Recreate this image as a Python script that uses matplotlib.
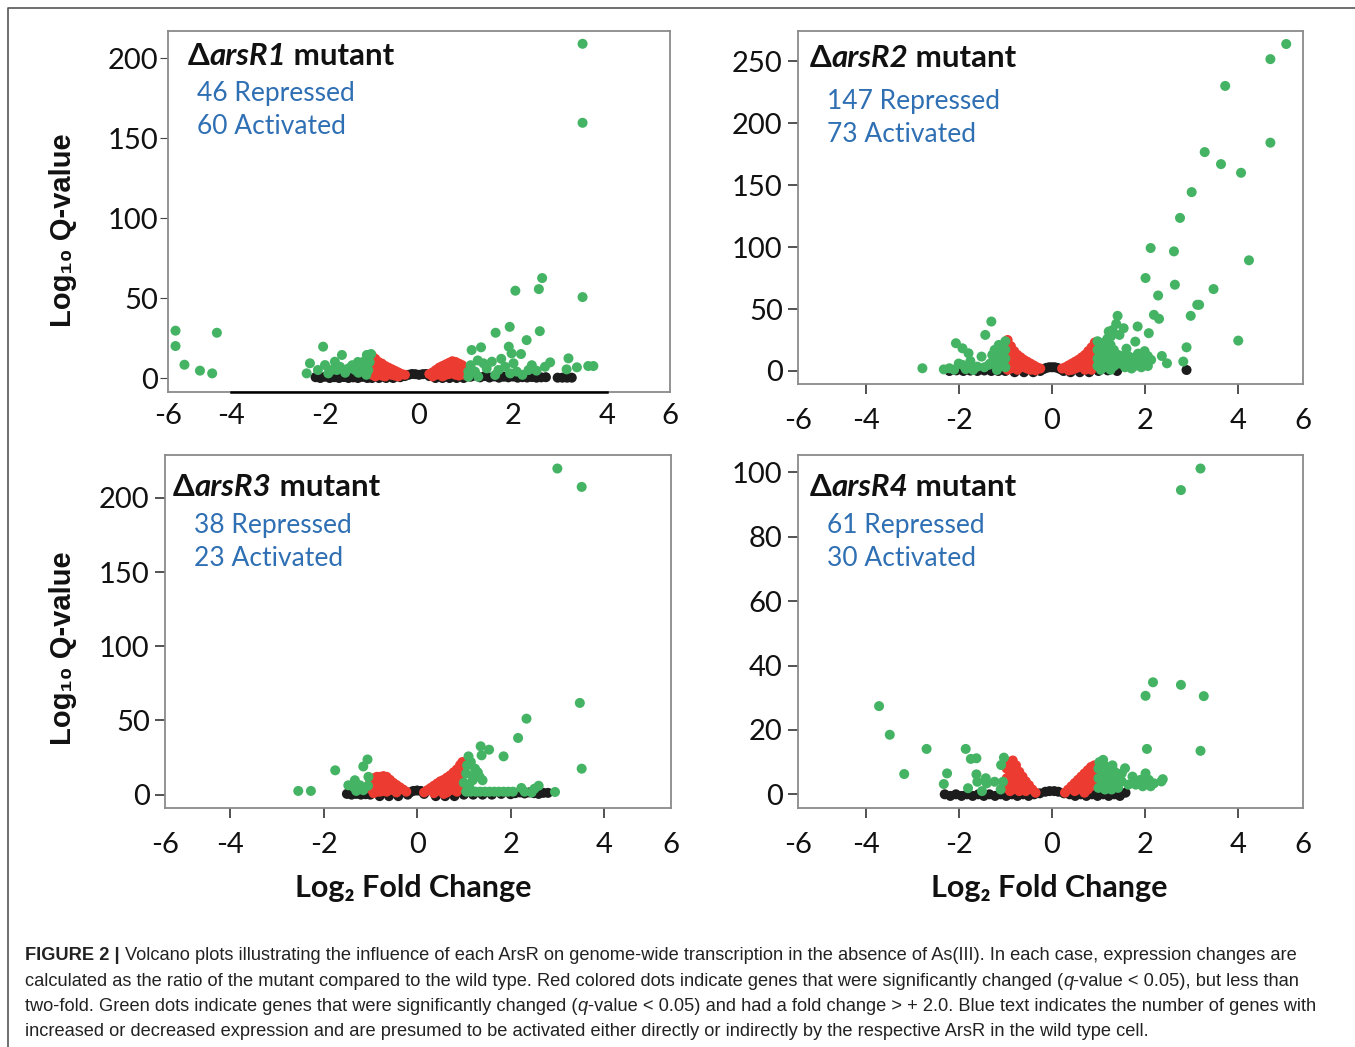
import matplotlib
matplotlib.use('Agg')
import matplotlib.pyplot as plt

W, H = 1355, 1047

GREEN = '#44b464'
RED = '#ec3b30'
BLACK = '#1c1c1c'
BLUE = '#2f6fb3'
SPINE = '#8a8a8a'

x_tick_labels = ['-6', '-4', '-2', '0', '2', '4', '6']

# points are (log2 fold change, log10 q-value)
# ---- dArsR1 ----
r1_black = [(-2.2, 0.5), (-2.1, 0), (-2.0, 0.8), (-1.9, 0), (-1.8, 0.5), (-1.7, 0), (-1.6, 0.6),
            (-1.5, 0), (-1.4, 0.4), (-1.3, 0), (-1.2, 0.7), (-1.1, 0), (-1.0, 0), (-0.85, 0),
            (-0.7, 0), (-0.55, 0), (-0.4, 0.5), (-0.3, 1.2), (-0.22, 2.0), (-0.15, 2.5), (-0.08, 2.4),
            (0.0, 2.0), (0.08, 2.4), (0.15, 2.5), (0.22, 1.2), (0.35, 0), (0.5, 0), (0.65, 0),
            (0.8, 0), (0.95, 0), (1.1, 0.8), (1.2, 1.5), (1.3, 0.4), (1.4, 1.2), (1.5, 0.3),
            (1.6, 1.0), (1.7, 0.2), (1.8, 0.8), (1.9, 0.4), (2.0, 0.9), (2.1, 0.2), (2.2, 0.5),
            (2.3, 0.3), (2.4, 0.6), (2.5, 0.2), (2.6, 0.4), (2.7, 0.5), (2.95, 0.2), (3.05, 0.2),
            (3.15, 0.2), (3.25, 0.2)]
r1_red = [(-1.0, 14), (-1.0, 10), (-1.0, 6), (-1.0, 2), (-0.93, 12), (-0.93, 8), (-0.93, 4),
          (-0.93, 1), (-0.86, 10), (-0.86, 6), (-0.86, 2), (-0.79, 9), (-0.79, 5), (-0.79, 1.5),
          (-0.72, 7.5), (-0.72, 4), (-0.72, 1), (-0.65, 6.5), (-0.65, 3), (-0.58, 5.5), (-0.58, 2),
          (-0.51, 4.5), (-0.51, 1.5), (-0.44, 3.5), (-0.44, 1), (-0.37, 2.5), (-0.3, 2),
          (0.22, 2.5), (0.29, 3.5), (0.29, 1), (0.36, 5), (0.36, 2), (0.43, 6.5), (0.43, 3),
          (0.5, 7.5), (0.5, 4), (0.5, 1), (0.57, 8.5), (0.57, 5), (0.57, 2), (0.64, 9.5),
          (0.64, 6), (0.64, 2.5), (0.71, 10.5), (0.71, 7), (0.71, 3), (0.78, 10), (0.78, 6),
          (0.78, 2), (0.85, 9), (0.85, 5), (0.85, 1.5), (0.92, 8), (0.92, 4), (0.97, 6), (0.97, 2)]
r1_green = [(-5.18, 29.6), (-5.18, 20), (-4.99, 8.3), (-4.66, 4.6), (-4.40, 2.9), (-4.30, 28.3),
            (-2.39, 2.9), (-2.32, 9.2), (-2.04, 19.6), (-2.0, 8.1), (-1.79, 10.2), (-1.64, 14.4),
            (-1.75, 5), (-1.5, 6), (-1.36, 5), (-1.22, 7), (-1.11, 14.4), (-1.02, 15), (-1.86, 5),
            (-1.93, 2.9), (-1.57, 3.3), (-1.29, 3.3), (-1.08, 5), (-1.18, 10.2), (-1.05, 10),
            (-1.12, 2), (-1.42, 8), (-1.68, 7), (-2.15, 5), (-1.3, 10),
            (3.48, 209), (3.48, 159.6), (3.48, 50.6), (2.62, 62.5), (2.55, 55.6), (2.05, 54.6),
            (1.93, 32), (1.63, 28.3), (2.57, 29.3), (2.29, 23.7), (1.12, 17.5), (1.32, 19.2),
            (1.91, 19.6), (1.97, 15.4), (2.17, 15), (1.37, 9.2), (1.55, 10.2), (1.44, 6),
            (1.69, 5), (1.83, 7), (2.01, 9.2), (2.08, 4), (2.33, 5), (2.5, 4.6), (2.68, 7),
            (2.79, 9.8), (3.18, 12.3), (3.14, 5.4), (3.36, 6.7), (3.6, 7.5), (3.71, 7.5),
            (1.19, 4), (1.05, 0.8), (1.26, 0.8), (1.62, 1.9), (1.94, 2.9), (1.1, 8), (1.05, 4),
            (1.25, 11), (2.2, 2), (2.4, 8), (1.75, 12)]

# ---- dArsR2 ----
r2_black = [(-2.2, 0), (-2.05, 0.5), (-1.9, 0), (-1.75, 0.3), (-1.6, 0), (-1.45, 0.4), (-1.3, 0),
            (-1.15, 0), (-1.0, 0), (-0.8, -1), (-0.6, -1), (-0.4, -1), (-0.25, 0), (-0.18, 1.5),
            (-0.12, 2.5), (-0.06, 3), (0.0, 3), (0.06, 3), (0.12, 2.5), (0.18, 1.5), (0.25, 0),
            (0.4, -1), (0.6, -1), (0.8, -1), (1.0, 0), (1.2, 0.5), (1.4, 0), (2.89, 0.8)]
r2_red = [(-0.95, 25), (-0.95, 19), (-0.95, 13), (-0.95, 7), (-0.95, 1), (-0.88, 20), (-0.88, 14),
          (-0.88, 8), (-0.88, 2), (-0.81, 16), (-0.81, 10), (-0.81, 4), (-0.74, 13), (-0.74, 7),
          (-0.74, 1), (-0.67, 11), (-0.67, 5), (-0.6, 9), (-0.6, 3), (-0.53, 7.5), (-0.53, 2),
          (-0.46, 6), (-0.46, 1), (-0.39, 4.5), (-0.32, 3), (-0.25, 2), (-0.35, 0.5),
          (0.22, 2), (0.29, 3), (0.36, 4.5), (0.36, 0.5), (0.43, 6), (0.43, 1), (0.5, 7.5),
          (0.5, 2), (0.57, 9), (0.57, 3), (0.64, 11), (0.64, 5), (0.71, 13), (0.71, 7), (0.71, 1),
          (0.78, 16), (0.78, 10), (0.78, 4), (0.85, 19), (0.85, 13), (0.85, 7), (0.85, 1),
          (0.92, 23), (0.92, 17), (0.92, 11), (0.92, 5)]
r2_green = [(5.03, 263.8), (4.69, 251.6), (3.72, 230), (4.69, 184.2), (3.28, 176.6), (3.63, 166.9),
            (4.06, 159.9), (3.0, 144.3), (2.75, 123.5), (2.12, 99.2), (2.62, 96.5), (4.23, 89.3),
            (2.01, 75), (2.64, 69.6), (3.47, 66.1), (2.28, 60.9), (3.16, 53.4), (3.12, 53.4),
            (2.19, 45.3), (2.3, 42.1), (2.98, 44.5), (1.41, 44.5), (1.84, 35.9), (2.08, 30.5),
            (1.54, 34.5), (1.22, 31.8), (1.45, 29.1), (1.79, 23.7), (2.89, 19.1), (4.0, 24.5),
            (2.36, 12.1), (2.47, 6.2), (2.82, 7.6),
            (0.98, 24), (0.98, 17), (0.98, 10), (0.98, 4), (1.05, 20), (1.05, 13), (1.05, 6),
            (1.05, 1), (1.12, 23), (1.12, 16), (1.12, 9), (1.12, 3), (1.19, 26), (1.19, 19),
            (1.19, 12), (1.19, 5), (1.26, 21), (1.26, 14), (1.26, 7), (1.26, 1), (1.33, 17),
            (1.33, 10), (1.33, 4), (1.38, 38), (1.3, 33), (1.27, 28),
            (1.5, 12), (1.5, 6), (1.57, 9), (1.57, 3), (1.64, 12), (1.64, 5), (1.71, 8), (1.71, 2),
            (1.78, 11), (1.78, 4), (1.85, 14), (1.85, 7), (1.92, 10), (1.92, 3), (1.99, 16),
            (1.99, 7), (2.06, 12), (2.06, 4), (2.13, 9), (1.43, 6), (1.42, 13), (1.6, 18),
            (-1.3, 39.9), (-1.43, 29.1), (-2.06, 22.4), (-1.92, 18.3), (-1.79, 14.3), (-2.78, 2.2),
            (-2.32, 1.3), (-2.2, 2.2), (-1.92, 4.9), (-1.6, 3.5), (-1.51, 11.6), (-1.23, 17),
            (-1.14, 21), (-1.09, 14.3), (-1.32, 6.2), (-1.18, 0.8), (-1.69, 0.8),
            (-1.0, 24), (-1.0, 17), (-1.0, 10), (-1.0, 3), (-1.07, 20), (-1.07, 7), (-1.14, 12),
            (-1.14, 4), (-1.21, 9), (-1.28, 13), (-1.35, 5), (-1.45, 3), (-1.85, 1.5), (-2.0, 6),
            (-2.1, 1), (-1.75, 8)]

# ---- dArsR3 ----
r3_black = [(-1.5, 0.5), (-1.4, 0), (-1.3, 0.5), (-1.2, 0), (-1.1, 0.3), (-1.0, 0), (-0.8, -1),
            (-0.6, -1), (-0.4, -1), (-0.2, 0), (-0.15, 1.5), (-0.08, 2.5), (0.0, 2.8), (0.08, 2.5),
            (0.15, 0.5), (0.4, -1), (0.6, -1), (0.8, -1), (1.0, 0), (1.2, 0), (1.4, 0), (1.6, 0),
            (1.8, 0.5), (2.0, 0.3), (2.1, 1), (2.2, 1.5), (2.3, 0.8), (2.4, 1.5), (2.5, 1),
            (2.6, 0.5), (2.7, 1.2), (2.8, 1.2)]
r3_red = [(-1.0, 9), (-1.0, 4), (-0.93, 11), (-0.93, 6), (-0.93, 1), (-0.86, 12), (-0.86, 7),
          (-0.86, 2), (-0.79, 12), (-0.79, 7), (-0.79, 2), (-0.72, 12.5), (-0.72, 7.5),
          (-0.72, 2.5), (-0.65, 12), (-0.65, 7), (-0.65, 2), (-0.58, 10), (-0.58, 5), (-0.51, 8),
          (-0.51, 3), (-0.44, 6.5), (-0.44, 1.5), (-0.37, 5), (-0.3, 3.5), (-0.23, 2),
          (0.15, 1.5), (0.22, 3), (0.29, 4.5), (0.36, 6), (0.36, 1), (0.43, 7.5), (0.43, 2.5),
          (0.5, 9), (0.5, 4), (0.57, 10), (0.57, 5), (0.57, 0.5), (0.64, 11.5), (0.64, 6.5),
          (0.64, 1.5), (0.71, 13), (0.71, 8), (0.71, 3), (0.78, 15), (0.78, 10), (0.78, 5),
          (0.85, 17), (0.85, 12), (0.85, 7), (0.85, 2), (0.92, 20), (0.92, 15), (0.92, 10),
          (0.92, 5), (0.97, 22)]
r3_green = [(3.0, 219.8), (3.52, 207.4), (3.48, 61.8), (3.52, 17.5), (2.34, 51.2), (2.16, 38.2),
            (1.85, 25.8), (1.36, 32.6), (1.54, 30.3), (1.38, 26.5), (1.10, 25.8), (1.15, 22),
            (1.24, 17.5), (1.05, 14.2), (1.34, 11.9), (1.19, 9.7), (1.40, 9.7), (1.07, 19.8),
            (1.0, 8), (1.12, 5), (1.3, 15), (1.2, 13),
            (1.05, 2), (1.15, 2), (1.25, 2), (1.35, 2), (1.45, 2), (1.55, 2), (1.65, 2), (1.75, 2),
            (1.85, 2), (1.95, 2), (2.05, 2), (2.51, 4), (2.23, 4.5), (2.95, 1.8), (2.6, 6),
            (2.3, 2), (2.45, 1.5),
            (-2.54, 2.5), (-2.27, 2.5), (-1.75, 16.4), (-1.15, 19), (-1.06, 23.7), (-1.04, 12),
            (-1.33, 9.7), (-1.47, 6.3), (-1.36, 5.2), (-1.22, 6.3), (-1.15, 3), (-1.3, 2.5),
            (-1.05, 6)]

# ---- dArsR4 ----
r4_black = [(-2.3, 0), (-2.18, -0.5), (-2.06, 0), (-1.94, -0.5), (-1.82, 0), (-1.7, -0.5),
            (-1.58, 0), (-1.46, -0.5), (-1.34, 0), (-1.22, -0.5), (-1.1, 0), (-0.98, -0.5),
            (-0.86, 0), (-0.74, -0.5), (-0.62, 0), (-0.5, -0.5), (-0.38, 0), (-0.26, 0.3),
            (-0.14, 0.8), (-0.05, 1.0), (0.05, 1.0), (0.14, 0.8), (0.26, 0.3), (0.38, 0),
            (0.5, -0.5), (0.62, 0), (0.74, -0.5), (0.86, 0), (0.98, -0.5), (1.1, 0), (1.22, -0.5),
            (1.34, 0), (1.46, -0.5), (1.58, 0.5)]
r4_red = [(-0.97, 8), (-0.97, 5), (-0.97, 2), (-0.9, 10), (-0.9, 7), (-0.9, 4), (-0.9, 1),
          (-0.84, 10.5), (-0.84, 7.5), (-0.84, 4.5), (-0.84, 1.5), (-0.77, 9), (-0.77, 6),
          (-0.77, 3), (-0.7, 7), (-0.7, 4), (-0.7, 1), (-0.63, 5.5), (-0.63, 2.5), (-0.56, 4),
          (-0.56, 1), (-0.49, 2.8), (-0.42, 1.5), (-0.35, 0.5),
          (0.28, 0.5), (0.35, 1.5), (0.42, 2.5), (0.49, 3.5), (0.49, 1), (0.56, 4.5), (0.56, 1.5),
          (0.63, 5.5), (0.63, 2.5), (0.7, 6.5), (0.7, 3.5), (0.7, 0.5), (0.77, 7.5), (0.77, 4.5),
          (0.77, 1.5), (0.84, 8.5), (0.84, 5.5), (0.84, 2.5), (0.91, 9), (0.91, 6), (0.91, 3),
          (0.95, 8)]
r4_green = [(3.19, 101.2), (2.77, 94.5), (2.17, 34.8), (2.77, 34.0), (2.01, 30.6), (3.26, 30.5),
            (2.04, 14.1), (3.19, 13.5), (-3.71, 27.4), (-3.48, 18.5), (-3.17, 6.3), (-2.69, 14.1),
            (-1.85, 14.1), (-1.74, 11), (-1.62, 11.2), (-2.25, 6.5), (-2.32, 3.2), (-1.03, 11.4),
            (-1.09, 9.1), (-1.62, 6.2), (-1.42, 5), (-1.6, 3.9), (-1.4, 3.4), (-1.8, 1.9),
            (-1.23, 3.9), (-1.05, 3.9), (-1.1, 1.5), (-1.5, 1),
            (1.1, 10.7), (1.17, 8.6), (1.27, 6.5), (1.57, 8.1), (1.73, 5.5), (2.01, 6.5),
            (2.08, 4.5), (2.38, 4.7), (2.19, 3.4), (1.0, 8), (1.0, 5), (1.0, 2), (1.07, 6),
            (1.07, 3), (1.14, 4.5), (1.14, 1.5), (1.21, 7), (1.21, 3), (1.28, 4), (1.28, 1.5),
            (1.35, 7), (1.35, 3), (1.42, 5), (1.42, 2), (1.5, 4), (1.5, 6.5), (1.64, 3), (1.8, 3),
            (1.9, 4.5), (1.95, 2.5), (2.12, 2.5), (1.02, 10), (1.3, 9), (2.35, 4)]

mutants = ['arsR1', 'arsR2', 'arsR3', 'arsR4']
repressed = [46, 147, 38, 61]
activated = [60, 73, 23, 30]
y_ticks = [[0, 50, 100, 150, 200], [0, 50, 100, 150, 200, 250],
           [0, 50, 100, 150, 200], [0, 20, 40, 60, 80, 100]]

# layout (pixels in the 1355x1047 image)
boxes = [(168, 31, 670, 392), (798, 31, 1303, 384), (165, 455, 671, 808), (798, 455, 1303, 808)]
xlims = [(-5.34, 5.34), (-5.45, 5.39), (-5.39, 5.43), (-5.45, 5.39)]
ylims = [(-8.75, 217), (-10.5, 274.3), (-9.0, 228.9), (-4.25, 105.4)]
title_pos = [(188, 56), (810, 58), (173, 487), (810, 487)]
blue_pos = [(197, 93, 127), (827, 101, 135), (194, 525, 559), (827, 525, 559)]

fig = plt.figure(figsize=(W / 100, H / 100), dpi=100)
# overlay axes in pixel units for the free text, drawn above the panels
bg = fig.add_axes([0, 0, 1, 1])
bg.set_xlim(0, W)
bg.set_ylim(H, 0)
bg.axis('off')
bg.set_zorder(10)
bg.plot([8, 8, W + 5], [H + 5, 8, 8], color='#555555', lw=1.2, clip_on=False)

TICKFONT = ['Lato', 'DejaVu Sans']


def chain(x, y, pieces, size, color, family):
    s, w, st = pieces[0]
    t = bg.text(x, y, s, fontsize=size, color=color, family=family, fontweight=w,
                fontstyle=st, va='center', ha='left')
    for s, w, st in pieces[1:]:
        t = bg.annotate(s, xy=(1, 0), xycoords=t, va='bottom', ha='left', fontsize=size,
                        color=color, family=family, fontweight=w, fontstyle=st)
    return t


data = [(r1_black, r1_red, r1_green), (r2_black, r2_red, r2_green),
        (r3_black, r3_red, r3_green), (r4_black, r4_red, r4_green)]

for i in range(4):
    l, t, r, b = boxes[i]
    ax = fig.add_axes([l / W, 1 - b / H, (r - l) / W, (b - t) / H])
    for pts, c in zip(data[i], (BLACK, RED, GREEN)):
        xs, ys = zip(*pts)
        ax.scatter(xs, ys, s=52, color=c, edgecolors='none', zorder=3)
    ax.set_xlim(*xlims[i])
    ax.set_ylim(*ylims[i])
    ax.set_yticks(y_ticks[i])
    ax.set_yticklabels([str(v) for v in y_ticks[i]])
    ax.set_xticks([-4, -2, 0, 2, 4])
    ax.set_xticklabels(x_tick_labels[1:-1])
    ax.set_xticks(list(xlims[i]), minor=True)
    ax.set_xticklabels([x_tick_labels[0], x_tick_labels[-1]], minor=True)
    for sp in ax.spines.values():
        sp.set_color(SPINE)
        sp.set_linewidth(1.3)
    if i == 0:
        ax.tick_params(axis='x', which='both', length=0, pad=8)
        ax.plot([-4, 4], [ylims[0][0]] * 2, color='black', lw=1.8, clip_on=False, zorder=4)
        ax.tick_params(axis='y', length=6, pad=1, color='#444444')
    else:
        ax.tick_params(axis='x', which='major', length=7, pad=10, color='#444444', width=1.3)
        ax.tick_params(axis='x', which='minor', length=0, pad=17)
        ax.tick_params(axis='y', length=7, pad=4, color='#444444', width=1.3)
    for lab in ax.get_xticklabels(which='both') + ax.get_yticklabels():
        lab.set_fontfamily(TICKFONT)
        lab.set_fontsize(21)
        lab.set_color('#111111')

    tx, ty = title_pos[i]
    chain(tx, ty, [('\u0394', 'bold', 'normal'), (mutants[i], 'bold', 'italic'),
                   (' mutant', 'bold', 'normal')], 22.5, '#111111', TICKFONT)
    bx, by1, by2 = blue_pos[i]
    bg.text(bx, by1, f'{repressed[i]} Repressed', fontsize=19, color=BLUE,
            family=TICKFONT, va='center', ha='left')
    bg.text(bx, by2, f'{activated[i]} Activated', fontsize=19, color=BLUE,
            family=TICKFONT, va='center', ha='left')

# axis titles
for yc in (230, 648):
    bg.text(63, yc, 'Log\u2081\u2080 Q-value', rotation=90, fontsize=21, fontweight='bold',
            family=['Liberation Sans', 'DejaVu Sans'], color='#111111', ha='center', va='center')
for xc in (413, 1049):
    bg.text(xc, 888, 'Log\u2082 Fold Change', fontsize=22, fontweight='bold',
            family=TICKFONT, color='#111111', ha='center', va='center')

# caption
CAP = ['Liberation Sans', 'DejaVu Sans']
capcol = '#222222'
lines = [
    [('FIGURE 2 | ', 'bold', 'normal'),
     ('Volcano plots illustrating the influence of each ArsR on genome-wide transcription in the '
      'absence of As(III). In each case, expression changes are', 'normal', 'normal')],
    [('calculated as the ratio of the mutant compared to the wild type. Red colored dots indicate '
      'genes that were significantly changed (', 'normal', 'normal'), ('q', 'normal', 'italic'),
     ('-value < 0.05), but less than', 'normal', 'normal')],
    [('two-fold. Green dots indicate genes that were significantly changed (', 'normal', 'normal'),
     ('q', 'normal', 'italic'),
     ('-value < 0.05) and had a fold change > + 2.0. Blue text indicates the number of genes with',
      'normal', 'normal')],
    [('increased or decreased expression and are presumed to be activated either directly or '
      'indirectly by the respective ArsR in the wild type cell.', 'normal', 'normal')],
]
for k, ln in enumerate(lines):
    chain(25, 956 + k * 25.3, ln, 13.15, capcol, CAP)

fig.savefig('out.png', dpi=100)
